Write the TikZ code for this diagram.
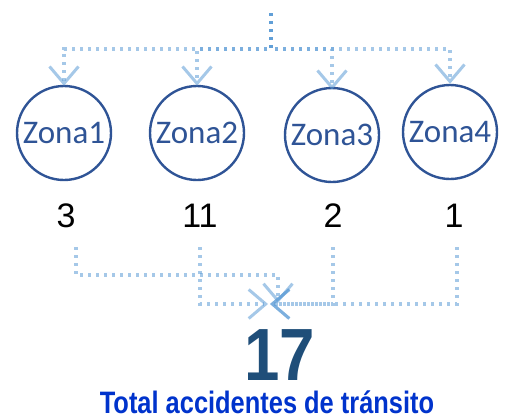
\documentclass[tikz,border=0pt]{standalone}
\usepackage{fontspec}
\usetikzlibrary{arrows.meta}
\newfontfamily\calib{Carlito}
\newfontfamily\arialf{Liberation Sans}
\newfontfamily\narrowf[FakeStretch=0.82]{Liberation Sans}
\newfontfamily\bignarrowf[FakeStretch=0.86]{Liberation Sans}
\definecolor{zonablue}{HTML}{2F5496}
\definecolor{linkblue}{HTML}{5B9BD5}
\definecolor{totalblue}{HTML}{1F4E79}
\definecolor{labelblue}{HTML}{0033CC}
\tikzset{
  zona/.style={circle, draw=zonablue, line width=2.4pt, minimum size=94pt, inner sep=0pt,
    text=zonablue, font=\calib\fontsize{33}{33}\selectfont},
  numlabel/.style={inner sep=0pt, anchor=base, text=black, font=\arialf\fontsize{34}{34}\selectfont},
  link/.style={draw=linkblue, draw opacity=0.55, line width=3.3pt, line cap=butt,
    dash pattern=on 3.3pt off 4.7pt,
    -{Straight Barb[length=17pt,width=29pt,line width=3pt]}},
}
\begin{document}
\begin{tikzpicture}[x=1pt,y=-1pt]
\useasboundingbox (0,0) rectangle (508,418);
% circles
\node[zona] (c1) at (64,133) {Zona1};
\node[zona] (c2) at (197,133) {Zona2};
\node[zona] (c3) at (332,135) {Zona3};
\node[zona] (c4) at (450,132) {Zona4};
% numbers
\node[numlabel] (n1) at (66,227) {3};
\node[numlabel] (n2) at (200,227) {11};
\node[numlabel] (n3) at (333,227) {2};
\node[numlabel] (n4) at (454,227) {1};
% totals
\node[inner sep=0pt, anchor=base, text=totalblue, font=\bignarrowf\bfseries\fontsize{74}{74}\selectfont] (tot) at (280,380) {17};
\node[inner sep=0pt, anchor=base, text=labelblue, font=\narrowf\bfseries\fontsize{31}{31}\selectfont] (lab) at (267,413.5) {Total accidentes de tránsito};
% top connectors
\coordinate (src) at (271,13);
\coordinate (bus) at (271,49);
\draw[link] (src) -- (bus) -| ([yshift=-1pt]c1.north);
\draw[link] (src) -- (bus) -| ([yshift=-1pt]c2.north);
\draw[link] (src) -- (bus) -| ([yshift=-3pt]c3.north);
\draw[link] (src) -- (bus) -| ([yshift=0pt]c4.north);
% bottom connectors
\coordinate (s1) at (76,247);
\coordinate (s2) at (200,247);
\coordinate (s3) at (333,247);
\coordinate (s4) at (457,247);
\coordinate (h1) at (278,303);
\coordinate (h2) at (268,304);
\coordinate (h3) at (270,304);
\draw[link] (s1) |- (278,275) -- (h1);
\draw[link] (s2) |- (h2);
\draw[link] (s3) |- (h3);
\draw[link] (s4) |- (h3);
\end{tikzpicture}
\end{document}
